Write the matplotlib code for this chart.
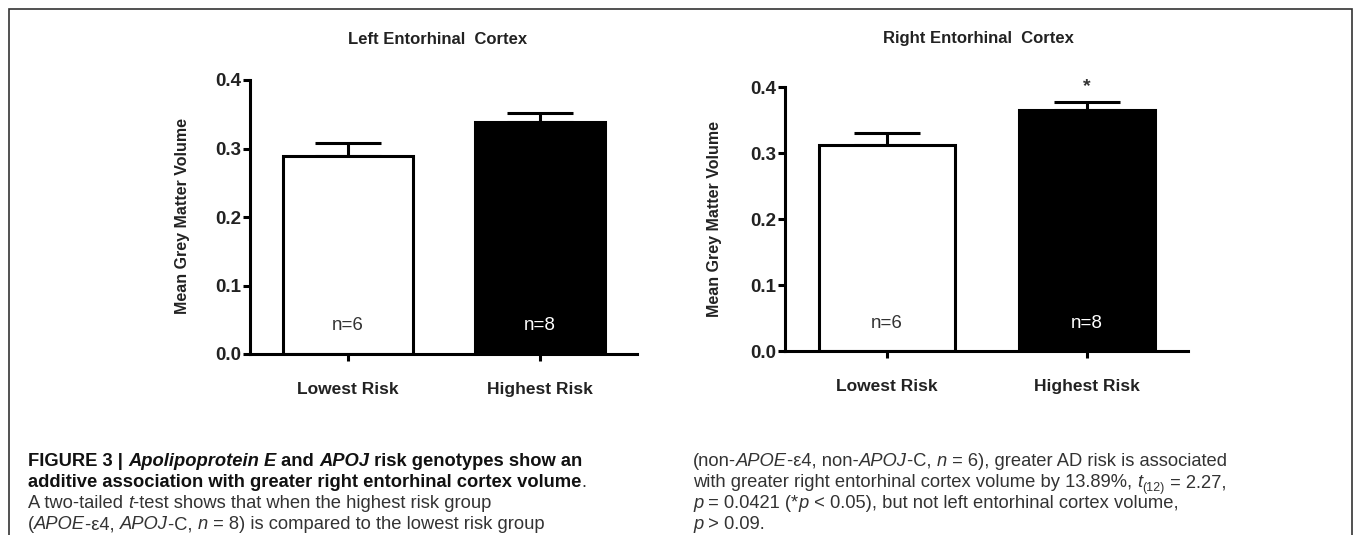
import matplotlib
matplotlib.use("Agg")
import matplotlib.pyplot as plt
from matplotlib.patches import Rectangle

plt.rcParams["font.family"] = ["Liberation Sans", "DejaVu Sans"]

# ── data ────────────────────────────────────────────────────────────────
groups = ["Lowest Risk", "Highest Risk"]
group_n = ["n=6", "n=8"]
bar_colors = ["white", "black"]
n_colors = ["#333333", "white"]

left_means = [0.289, 0.339]
left_sem = [0.019, 0.013]
right_means = [0.312, 0.365]
right_sem = [0.018, 0.012]

yticks = [0.0, 0.1, 0.2, 0.3, 0.4]
ytick_labels = ["0.0", "0.1", "0.2", "0.3", "0.4"]

W, H = 1355, 535
fig = plt.figure(figsize=(W / 100, H / 100), dpi=100)


def px_axes(x0, x1, ytop, ybot):
    return fig.add_axes([x0 / W, 1 - ybot / H, (x1 - x0) / W, (ybot - ytop) / H])


def bar_panel(ax, means, sem, star=False):
    x = [0, 1]
    for i in x:
        ax.errorbar(i, means[i], yerr=[[0], [sem[i]]], fmt="none", ecolor="black",
                    elinewidth=2.2, capsize=24, capthick=2.2, zorder=1)
    ax.bar(x, means, width=0.68, color=bar_colors, edgecolor="black",
           linewidth=2.2, zorder=2)
    for i in x:
        ax.text(i, 0.042, group_n[i], ha="center", va="center", fontsize=13.5,
                color=n_colors[i], zorder=3)
    if star:
        ax.text(1, means[1] + sem[1] + 0.024, "*", ha="center", va="center",
                fontsize=14, fontweight="bold", color="#333333")
    ax.set_xlim(-0.51, 1.505)
    ax.set_ylim(0, 0.4)
    ax.set_yticks(yticks)
    ax.set_yticklabels(ytick_labels, fontsize=13.5, fontweight="bold", color="#222222")
    ax.set_xticks(x)
    ax.set_xticklabels(groups, fontsize=12.5, fontweight="bold", color="#222222")
    ax.tick_params(axis="y", length=5, width=2.2, pad=1)
    ax.tick_params(axis="x", length=5, width=2.2, pad=15)
    for s in ("top", "right"):
        ax.spines[s].set_visible(False)
    for s in ("left", "bottom"):
        ax.spines[s].set_linewidth(2.2)
    ax.patch.set_alpha(0)


ax_l = px_axes(250, 637, 80, 354)
bar_panel(ax_l, left_means, left_sem)
ax_r = px_axes(785, 1188, 87, 351)
bar_panel(ax_r, right_means, right_sem, star=True)

fig.text(438 / W, 1 - 39 / H, "Left Entorhinal  Cortex", ha="center", va="center",
         fontsize=12, fontweight="bold", color="#222222")
fig.text(978 / W, 1 - 39 / H, "Right Entorhinal  Cortex", ha="center", va="center",
         fontsize=12, fontweight="bold", color="#222222")
for xp, yp in ((183, 216), (715, 219)):
    fig.text(xp / W, 1 - yp / H, "Mean Grey Matter Volume", rotation=90,
             ha="center", va="center", fontsize=11.5, fontweight="bold",
             color="#222222")

# frame round the figure
fig.add_artist(Rectangle((9 / W, -0.05), 1343 / W, 1.05 - 9 / H,
                         transform=fig.transFigure, fill=False,
                         edgecolor="#333333", linewidth=1.2))

# ── caption ─────────────────────────────────────────────────────────────
cap = fig.add_axes([0, 0, 1, 1])
cap.set_axis_off()
cap.set_xlim(0, W)
cap.set_ylim(H, 0)

CAP_SIZE = 13.2
B, BI, R, I, SUB = "b", "bi", "r", "i", "sub"


def rich_line(x, y, parts):
    first = None
    prev = None
    for txt, kind in parts:
        kw = dict(fontsize=CAP_SIZE, color="#333333", va="bottom", ha="left")
        dy = 0
        if kind in (B, BI):
            kw["fontweight"] = "bold"
            kw["color"] = "#111111"
        if kind in (I, BI):
            kw["fontstyle"] = "italic"
        if kind == SUB:
            kw["fontsize"] = CAP_SIZE * 0.68
            dy = -2.5
        if prev is None:
            t = cap.text(x, y, txt, **kw)
            first = t
        else:
            t = cap.annotate(txt, xy=(1, 0), xycoords=(prev, first),
                             xytext=(0, dy), textcoords="offset points", **kw)
        prev = t


left_lines = [
    [("FIGURE 3 | ", B), ("Apolipoprotein E", BI), (" and ", B), ("APOJ", BI),
     (" risk genotypes show an", B)],
    [("additive association with greater right entorhinal cortex volume", B),
     (".", R)],
    [("A two-tailed ", R), ("t", I), ("-test shows that when the highest risk group", R)],
    [("(", R), ("APOE", I), ("-ε4, ", R), ("APOJ", I), ("-C, ", R), ("n", I),
     (" = 8) is compared to the lowest risk group", R)],
]
right_lines = [
    [("(non-", R), ("APOE", I), ("-ε4, non-", R), ("APOJ", I), ("-C, ", R), ("n", I),
     (" = 6), greater AD risk is associated", R)],
    [("with greater right entorhinal cortex volume by 13.89%, ", R), ("t", I),
     ("(12)", SUB), (" = 2.27,", R)],
    [("p", I), (" = 0.0421 (*", R), ("p", I), (" < 0.05), but not left entorhinal cortex volume,", R)],
    [("p", I), (" > 0.09.", R)],
]
line_y = [470, 491, 512, 533]
for yy, parts in zip(line_y, left_lines):
    rich_line(28, yy, parts)
for yy, parts in zip(line_y, right_lines):
    rich_line(693, yy, parts)

fig.savefig("out.png", dpi=100)
